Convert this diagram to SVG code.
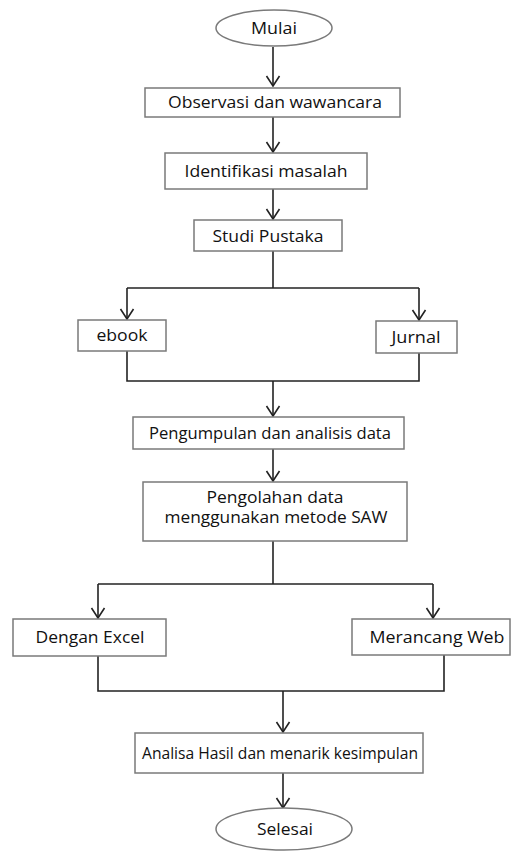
<svg xmlns="http://www.w3.org/2000/svg" width="514" height="852" viewBox="0 0 514 852">
<style>
.box{fill:#fff;stroke:#7a7a7a;stroke-width:1.5}
.t{font-family:"Open Sans","Noto Sans",sans-serif;font-size:16px;fill:#111;text-anchor:middle}
.ln{fill:none;stroke:#222;stroke-width:1.6}
</style>
<defs>
<marker id="ah" viewBox="-12 -8 14 16" refX="0" refY="0" markerWidth="14" markerHeight="16" markerUnits="userSpaceOnUse" orient="auto">
<path d="M-10,-6.5 L0,0 L-10,6.5" fill="none" stroke="#222" stroke-width="1.6"/>
</marker>
</defs>
<rect width="514" height="852" fill="#fff"/>
<g id="connectors">
<line class="ln" x1="273" y1="47" x2="273" y2="86" marker-end="url(#ah)"/>
<line class="ln" x1="273" y1="117" x2="273" y2="152" marker-end="url(#ah)"/>
<line class="ln" x1="273" y1="189" x2="273" y2="219" marker-end="url(#ah)"/>
<polyline class="ln" points="273,251 273,288"/>
<polyline class="ln" points="127,288 419,288"/>
<line class="ln" x1="127" y1="288" x2="127" y2="319" marker-end="url(#ah)"/>
<line class="ln" x1="419" y1="288" x2="419" y2="320" marker-end="url(#ah)"/>
<polyline class="ln" points="127,351 127,381 419,381 419,353"/>
<line class="ln" x1="273" y1="381" x2="273" y2="416" marker-end="url(#ah)"/>
<line class="ln" x1="273" y1="449" x2="273" y2="481" marker-end="url(#ah)"/>
<polyline class="ln" points="273,541 273,584"/>
<polyline class="ln" points="98,584 433,584"/>
<line class="ln" x1="98" y1="584" x2="98" y2="618" marker-end="url(#ah)"/>
<line class="ln" x1="433" y1="584" x2="433" y2="618" marker-end="url(#ah)"/>
<polyline class="ln" points="98,656 98,691 444,691 444,655"/>
<line class="ln" x1="283" y1="691" x2="283" y2="732" marker-end="url(#ah)"/>
<line class="ln" x1="283" y1="773" x2="283" y2="808" marker-end="url(#ah)"/>
</g>
<g id="mulai">
<ellipse class="box" cx="274" cy="28" rx="58" ry="18"/>
<text class="t" x="274" y="33.5" textLength="46" lengthAdjust="spacingAndGlyphs">Mulai</text>
</g>
<g id="observasi">
<rect class="box" x="145" y="88" width="255" height="29"/>
<text class="t" x="275" y="107.5" textLength="214" lengthAdjust="spacingAndGlyphs">Observasi dan wawancara</text>
</g>
<g id="identifikasi">
<rect class="box" x="165" y="153" width="202" height="36"/>
<text class="t" x="266" y="176.5" textLength="163" lengthAdjust="spacingAndGlyphs">Identifikasi masalah</text>
</g>
<g id="studi">
<rect class="box" x="194" y="220" width="148" height="31"/>
<text class="t" x="268" y="241.5" textLength="111" lengthAdjust="spacingAndGlyphs">Studi Pustaka</text>
</g>
<g id="ebook">
<rect class="box" x="78" y="320" width="88" height="31"/>
<text class="t" x="122" y="340.5" textLength="51" lengthAdjust="spacingAndGlyphs">ebook</text>
</g>
<g id="jurnal">
<rect class="box" x="376" y="321" width="81" height="32"/>
<text class="t" x="416" y="342.5" textLength="49" lengthAdjust="spacingAndGlyphs">Jurnal</text>
</g>
<g id="pengumpulan">
<rect class="box" x="133" y="417" width="271" height="32"/>
<text class="t" x="270" y="438.5" textLength="242" lengthAdjust="spacingAndGlyphs">Pengumpulan dan analisis data</text>
</g>
<g id="pengolahan">
<rect class="box" x="143" y="482" width="264" height="59"/>
<text class="t" x="275" y="502.5" textLength="137" lengthAdjust="spacingAndGlyphs">Pengolahan data</text>
<text class="t" x="276" y="522.5" textLength="223" lengthAdjust="spacingAndGlyphs">menggunakan metode SAW</text>
</g>
<g id="excel">
<rect class="box" x="13" y="619" width="153" height="37"/>
<text class="t" x="90" y="642.5" textLength="109" lengthAdjust="spacingAndGlyphs">Dengan Excel</text>
</g>
<g id="web">
<rect class="box" x="352" y="619" width="158" height="36"/>
<text class="t" x="437" y="642.5" textLength="135" lengthAdjust="spacingAndGlyphs">Merancang Web</text>
</g>
<g id="analisa">
<rect class="box" x="135" y="733" width="288" height="40"/>
<text class="t" x="280" y="758.5" textLength="276" lengthAdjust="spacingAndGlyphs">Analisa Hasil dan menarik kesimpulan</text>
</g>
<g id="selesai">
<ellipse class="box" cx="284" cy="829" rx="68" ry="21"/>
<text class="t" x="285" y="834.5" textLength="56" lengthAdjust="spacingAndGlyphs">Selesai</text>
</g>
</svg>
